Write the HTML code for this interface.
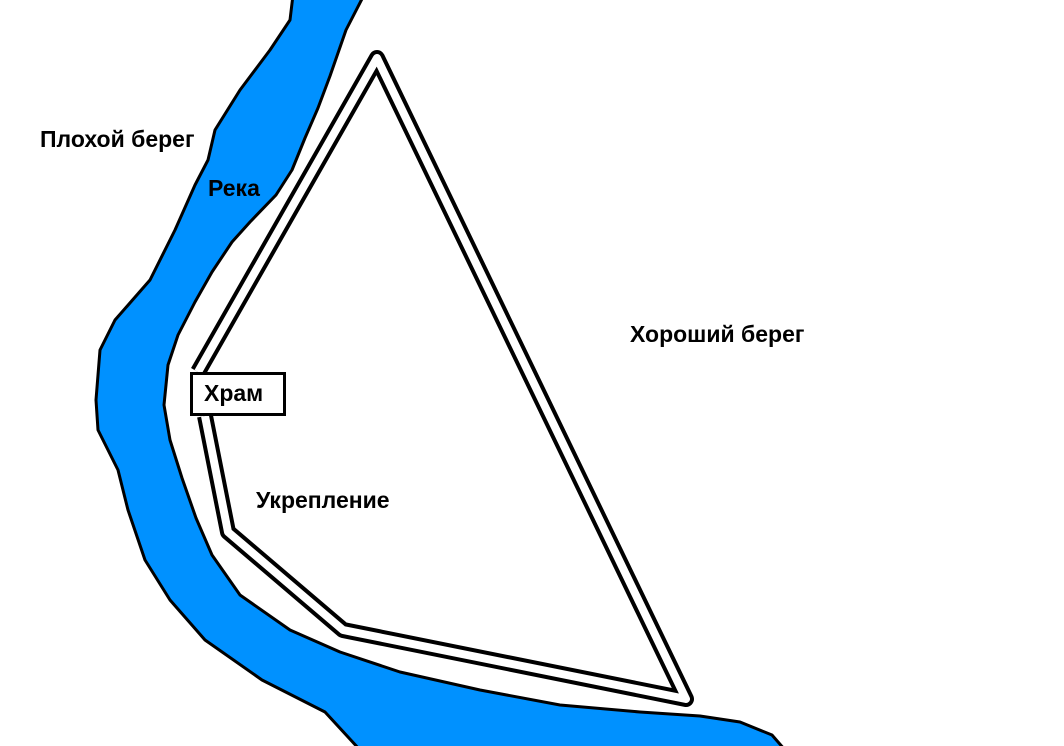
<!DOCTYPE html>
<html><head><meta charset="utf-8"><style>
html,body{margin:0;padding:0;background:#fff;}
.w{position:relative;width:1064px;height:746px;overflow:hidden;font-family:"Liberation Sans","DejaVu Sans",sans-serif;font-weight:bold;}
.t{position:absolute;font-size:23px;color:#000;white-space:nowrap;}
</style></head><body><div class="w">
<svg width="1064" height="746" style="position:absolute;left:0;top:0">
<path d="M293,-5 L290,20 L270,50 L240,90 L215,130 L208,160 L195,185 L175,230 L150,280 L115,320 L100,350 L96,400 L98,430 L118,470 L128,510 L145,560 L170,600 L205,640 L262,680 L325,712 L360,750 L785,750 L772,735 L740,722 L700,716 L640,712 L560,705 L480,690 L400,672 L340,652 L290,630 L240,595 L212,555 L196,518 L182,478 L170,440 L164,405 L168,365 L178,335 L195,302 L212,272 L232,242 L250,222 L276,195 L292,170 L305,138 L318,108 L330,76 L346,30 L364,-5 Z" fill="#0091ff" stroke="#000" stroke-width="3" stroke-linejoin="round"/>
<path d="M198,372 L377,58 L686,699 L343,630 L228,532 L205,416" fill="none" stroke="#000" stroke-width="16" stroke-linejoin="round"/>
<path d="M198,372 L377,58 L686,699 L343,630 L228,532 L205,416" fill="none" stroke="#fff" stroke-width="8" stroke-linejoin="round"/>
<rect x="191.5" y="373.5" width="93" height="41" fill="#fff" stroke="#000" stroke-width="3"/>
</svg>
<div class="t" style="left:40px;top:126px">Плохой берег</div>
<div class="t" style="left:208px;top:175px">Река</div>
<div class="t" style="left:630px;top:321px">Хороший берег</div>
<div class="t" style="left:256px;top:487px">Укрепление</div>
<div class="t" style="left:204px;top:380px">Храм</div>
</div></body></html>
